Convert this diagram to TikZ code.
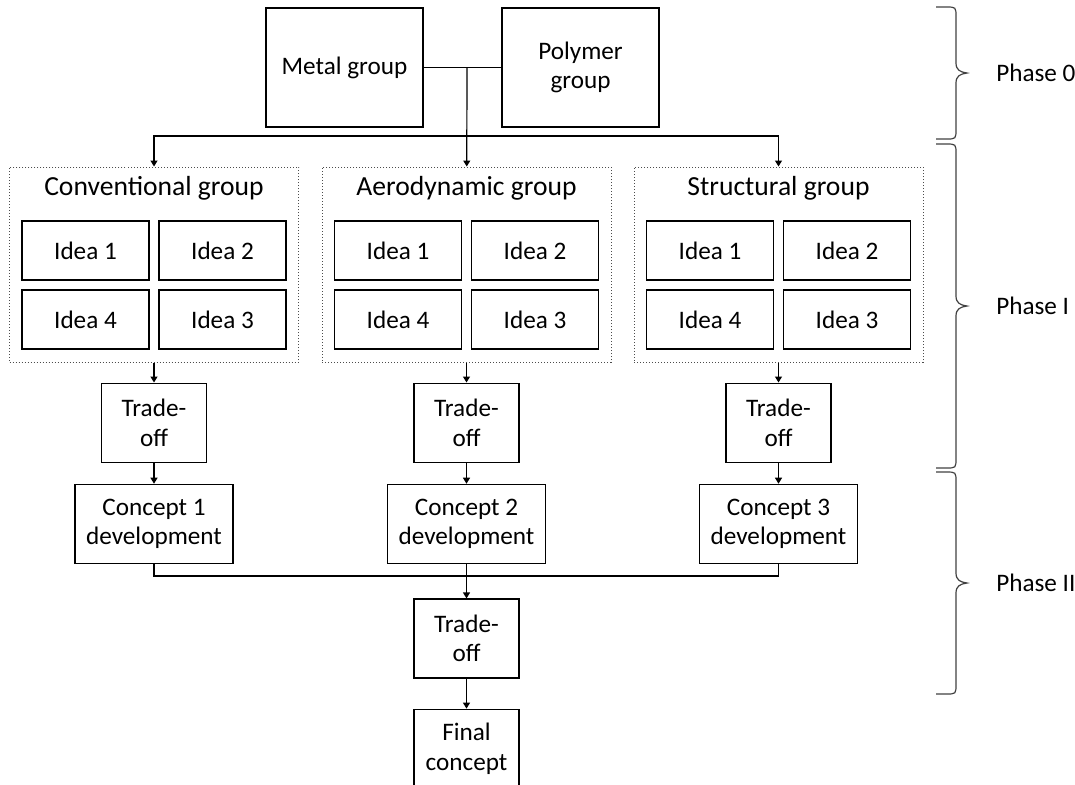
\documentclass[tikz,border=0pt]{standalone}
\usepackage{fontspec}
\setmainfont{Carlito}
\usetikzlibrary{arrows.meta, positioning}
\tikzset{
	>={Triangle[length=3pt,width=3.5pt]}, % small filled arrow heads
	every node/.style={font=\fontsize{12.6}{14.8}\selectfont}, % one text size for the boxes
	title/.style={font=\fontsize{13.8}{16}\selectfont}, % group names are a bit larger
	box/.style={draw, line width=0.6pt, align=center, inner sep=0pt}, % plain boxes
	group/.style={draw=black!70, densely dotted, line width=0.5pt, minimum width=144.5pt, minimum height=97.5pt}, % dotted frame of a group
	idea/.style={box, minimum width=63.5pt, minimum height=29.5pt},
	trade/.style={box, minimum width=52.5pt, minimum height=39.5pt},
	concept/.style={box, minimum width=79pt, minimum height=39.5pt},
	phase/.style={draw=black!75, line width=0.6pt}, % curly braces on the right
}

\begin{document}
\begin{tikzpicture}[x=0.5pt, y=-0.5pt, line width=0.6pt]
	\useasboundingbox (0,0) rectangle (1075,784);
	\node[box, minimum width=78.5pt, minimum height=59.5pt] (metal) at (344.5,67.5) {Metal group};
	\node[box, minimum width=78.5pt, minimum height=59.5pt] (poly) at (580.5,67.5) {Polymer\\group};
	\coordinate (junc) at (467,67.5);
	\coordinate (bus) at (467,136);
	\foreach \i/\x/\name in {1/154/Conventional, 2/466.5/Aerodynamic, 3/778.5/Structural} {
		\node[group] (grp\i) at (\x,264.5) {};
		\node[title] (title\i) at (\x,188) {\name\ group};
		\node[idea] (ia\i) at (\x-68.5,250.5) {Idea 1};
		\node[idea] (ib\i) at (\x+68.5,250.5) {Idea 2};
		\node[idea] (id\i) at (\x-68.5,319.5) {Idea 4};
		\node[idea] (ic\i) at (\x+68.5,319.5) {Idea 3};
		\node[trade, below=10pt of grp\i] (trade\i) {Trade-\\off};
		\node[concept, below=10.5pt of trade\i] (conc\i) {Concept \i\\development};
		\draw[->] (grp\i) -- (trade\i);
		\draw[->] (trade\i) -- (conc\i);
	}
	\node[trade] (tradeF) at (466.5,638.5) {Trade-\\off};
	\node[trade, below=15pt of tradeF] (final) {Final\\concept};
	\coordinate (bus2) at (466.5,576);
	\draw (metal) -- (poly);
	\draw[->] (junc) -- (grp2);
	\draw[->] (bus) -| (grp1);
	\draw[->] (bus) -| (grp3);
	\draw (conc1.south) |- (bus2) -| (conc3.south);
	\draw[->] (conc2) -- (tradeF);
	\draw[->] (tradeF) -- (final);
	% phases
	\foreach \a/\b in {7/139, 144/468, 472/694}
		\draw[phase] (936,\a) -- (946,\a) .. controls (956,\a) .. (956,\a+10)
			-- (956,{(\a+\b)/2-10}) .. controls (956,{(\a+\b)/2-3}) and (960,{(\a+\b)/2-1}) .. (967,{(\a+\b)/2})
			.. controls (960,{(\a+\b)/2+1}) and (956,{(\a+\b)/2+3}) .. (956,{(\a+\b)/2+10})
			-- (956,\b-10) .. controls (956,\b) .. (946,\b) -- (936,\b);
	\node[anchor=west] (ph0) at (989,73) {Phase 0};
	\node[anchor=west] (ph1) at (989,306) {Phase I};
	\node[anchor=west] (ph2) at (989,583) {Phase II};
\end{tikzpicture}
\end{document}
